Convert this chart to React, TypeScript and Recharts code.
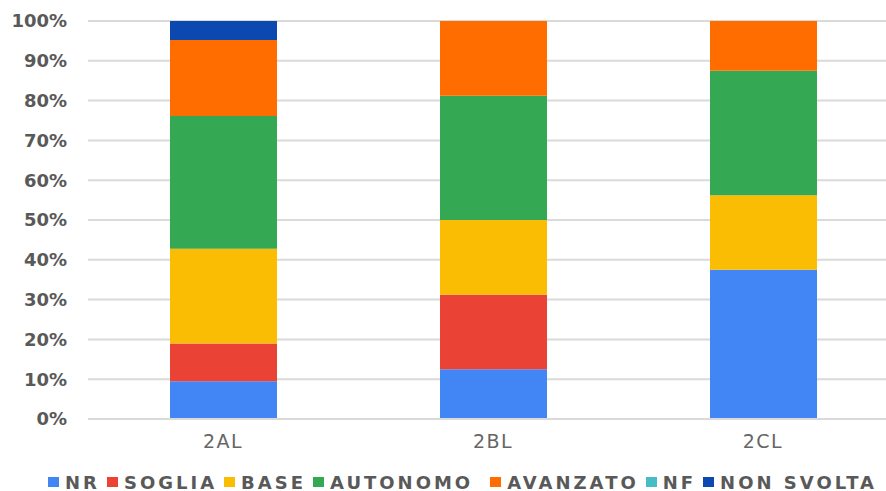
import { BarChart, Bar, XAxis, YAxis, CartesianGrid, Legend } from 'recharts';

const classes = ['2AL', '2BL', '2CL'];
const levels = ['NR', 'SOGLIA', 'BASE', 'AUTONOMO', 'AVANZATO', 'NF', 'NON SVOLTA'];
const colors = ['#4285F4', '#EA4335', '#FBBC04', '#34A853', '#FF6D01', '#46BDC6', '#0B48B0'];

// percentages per class, in level order
const nr = [9.5, 12.5, 37.5];
const soglia = [9.5, 18.75, 0];
const base = [23.8, 18.75, 18.75];
const autonomo = [33.3, 31.25, 31.25];
const avanzato = [19.1, 18.75, 12.5];
const nf = [0, 0, 0];
const nonSvolta = [4.8, 0, 0];

const yTicks = [0, 10, 20, 30, 40, 50, 60, 70, 80, 90, 100];

const series = [nr, soglia, base, autonomo, avanzato, nf, nonSvolta];
const data = classes.map((c, i) => {
  const row: Record<string, string | number> = { name: c };
  levels.forEach((l, j) => {
    row[l] = series[j][i];
  });
  return row;
});

function LegendBox() {
  return (
    <div
      style={{
        height: 30,
        width: 925,
        display: 'flex',
        justifyContent: 'center',
        alignItems: 'center',
        paddingTop: 12,
        boxSizing: 'border-box',
        fontFamily: 'DejaVu Sans',
        fontWeight: 'bold',
        fontSize: 18,
        letterSpacing: 3,
        color: '#595959',
      }}
    >
      {levels.map((l, i) => (
        <div
          key={l}
          style={{
            display: 'flex',
            alignItems: 'center',
            marginRight: i < levels.length - 1 ? 7 : 0,
            marginLeft: l === 'AVANZATO' ? 10 : 0,
          }}
        >
          <span style={{ width: 11, height: 10, background: colors[i], marginRight: 6, display: 'inline-block' }} />
          <span>{l}</span>
        </div>
      ))}
    </div>
  );
}

export default function App() {
  return (
    <div style={{ position: 'fixed', left: 0, top: 0, width: 886, height: 491, overflow: 'hidden', background: '#fff' }}>
      <BarChart width={898} height={491} data={data} margin={{ top: 21, right: 0, left: 0, bottom: 0 }}>
        <CartesianGrid vertical={false} stroke="#dadada" strokeWidth={2} />
        <XAxis
          dataKey="name"
          height={42}
          tickLine={false}
          tickSize={0}
          tickMargin={16}
          axisLine={{ stroke: '#dadada', strokeWidth: 2 }}
          tick={{ fontFamily: 'DejaVu Sans', fontSize: 19, fill: '#666666', letterSpacing: 1.5 }}
        />
        <YAxis
          width={88}
          domain={[0, 100]}
          ticks={yTicks}
          interval={0}
          tickFormatter={(v) => `${v}%`}
          axisLine={false}
          tickLine={false}
          tickSize={0}
          tickMargin={21}
          tick={{ fontFamily: 'DejaVu Sans', fontWeight: 'bold', fontSize: 18, fill: '#595959' }}
        />
        <Legend verticalAlign="bottom" content={() => <LegendBox />} />
        {levels.map((l, i) => (
          <Bar key={l} dataKey={l} stackId="a" fill={colors[i]} barSize={107} isAnimationActive={false} />
        ))}
      </BarChart>
    </div>
  );
}
